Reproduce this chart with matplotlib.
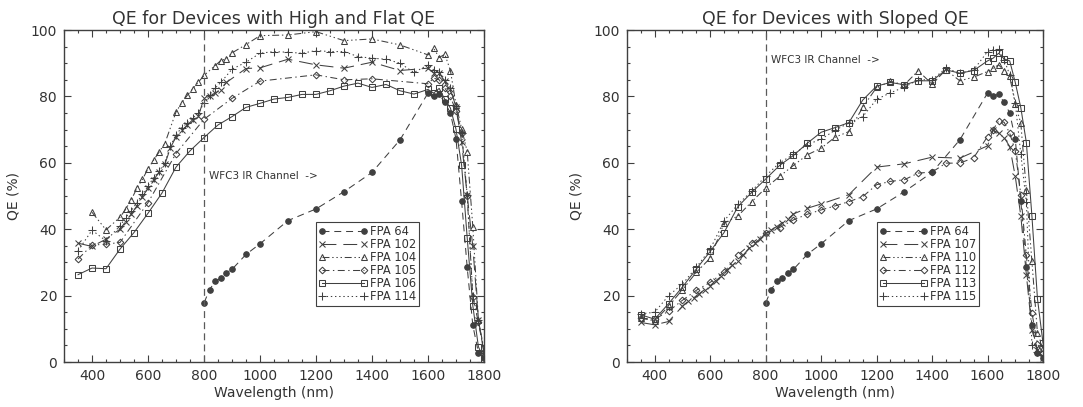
import matplotlib
matplotlib.use('Agg')
import matplotlib.pyplot as plt

plt.rcParams['font.family'] = ['DejaVu Sans']
plt.rcParams['lines.scale_dashes'] = False

# ---- data ---------------------------------------------------------------
# FPA 64 shows up in both panels
wl_64 = [800, 820, 840, 860, 880, 900, 950, 1000, 1100, 1200, 1300, 1400, 1500,
         1600, 1620, 1640, 1660, 1680, 1700, 1720, 1740, 1760, 1780, 1800]
qe_64 = [17.8, 21.8, 24.3, 25.2, 26.9, 27.9, 32.4, 35.6, 42.6, 46.1, 51.3, 57.1, 66.9,
         81.0, 80.2, 80.6, 78.2, 75.0, 67.2, 48.4, 28.5, 11.1, 2.8, 1.2]

# left panel: high and flat QE
wl_102 = [350, 400, 450, 500, 520, 540, 560, 580, 600, 620, 640, 660, 680, 700, 720, 740,
          760, 780, 800, 820, 840, 860, 880, 950, 1000, 1100, 1200, 1300, 1400, 1500,
          1600, 1620, 1640, 1660, 1680, 1700, 1720, 1740, 1760, 1780, 1800]
qe_102 = [35.8, 34.8, 37.0, 40.0, 42.3, 44.5, 47.0, 49.8, 52.3, 54.8, 57.3, 59.5, 64.5, 67.8,
          69.8, 71.3, 73.0, 74.0, 79.5, 80.0, 81.0, 82.0, 84.2, 88.4, 88.6, 91.2, 89.5, 88.5,
          90.3, 87.8, 88.5, 87.0, 87.0, 84.5, 82.1, 76.9, 66.2, 50.2, 34.8, 12.7, 2.7]

wl_104 = [400, 450, 500, 520, 540, 560, 580, 600, 620, 640, 660, 700, 720, 740, 760, 780,
          800, 840, 860, 880, 900, 950, 1000, 1100, 1200, 1300, 1400, 1500, 1600, 1620,
          1640, 1660, 1680, 1700, 1720, 1740, 1760, 1780, 1800]
qe_104 = [45.1, 39.8, 43.6, 46.0, 48.8, 52.3, 55.0, 58.2, 60.8, 63.3, 65.8, 75.3, 78.0, 80.3,
          82.3, 84.3, 86.3, 89.3, 90.8, 91.3, 93.1, 95.6, 98.3, 98.5, 99.5, 96.8, 97.3, 95.5,
          92.5, 94.5, 91.7, 92.7, 87.8, 77.5, 70.3, 63.4, 40.8, 12.7, 3.7]

wl_105 = [350, 400, 450, 500, 600, 700, 800, 900, 1000, 1200, 1300, 1400, 1600, 1620,
          1640, 1660, 1680, 1700, 1720, 1740, 1760, 1780, 1800]
qe_105 = [31.0, 35.2, 35.5, 36.0, 48.0, 62.8, 73.1, 79.4, 84.6, 86.5, 85.0, 85.3, 83.8, 85.5,
          85.0, 82.5, 80.0, 75.5, 69.0, 50.0, 19.5, 12.0, 3.0]

wl_106 = [350, 400, 450, 500, 550, 600, 650, 700, 750, 800, 850, 900, 950, 1000, 1050, 1100,
          1150, 1200, 1250, 1300, 1350, 1400, 1450, 1500, 1550, 1600, 1620, 1640, 1660,
          1680, 1700, 1720, 1740, 1760, 1780, 1800]
qe_106 = [26.3, 28.3, 28.1, 34.0, 39.0, 44.8, 50.9, 58.7, 63.6, 67.6, 71.4, 73.9, 76.7, 77.9,
          79.2, 79.7, 80.6, 80.6, 81.7, 83.1, 84.0, 82.7, 83.6, 81.7, 80.7, 82.1, 81.0, 82.4,
          79.1, 76.5, 70.1, 59.3, 37.4, 17.0, 4.6, 0.8]

wl_114 = [350, 400, 450, 500, 520, 540, 560, 580, 600, 620, 640, 660, 680, 700, 720, 740,
          760, 780, 800, 820, 840, 860, 900, 950, 1000, 1050, 1100, 1150, 1200, 1250, 1300,
          1350, 1400, 1450, 1500, 1550, 1600, 1620, 1640, 1660, 1680, 1700, 1720, 1740,
          1760, 1780, 1800]
qe_114 = [33.5, 39.7, 36.5, 41.0, 43.5, 45.5, 48.0, 50.5, 53.0, 55.5, 57.5, 60.0, 65.0, 68.5,
          70.5, 72.0, 73.5, 75.0, 78.0, 80.5, 82.5, 84.2, 88.2, 90.3, 93.0, 93.5, 93.3, 93.0,
          93.8, 93.5, 93.5, 92.0, 91.5, 91.2, 90.0, 87.2, 89.5, 88.0, 87.5, 85.0, 82.5, 77.0,
          69.0, 50.3, 20.0, 12.7, 3.2]

# right panel: sloped QE
wl_r = [350, 400, 450, 500, 550, 600, 650, 700, 750, 800, 850, 900, 950, 1000, 1050, 1100,
        1150, 1200, 1250, 1300, 1350, 1400, 1450, 1500, 1550, 1600, 1620, 1640, 1660,
        1680, 1700, 1720, 1740, 1760, 1780, 1800]
qe_110 = [13.2, 12.4, 16.8, 21.8, 27.0, 31.3, 41.8, 44.0, 48.3, 52.4, 55.9, 59.2, 62.4, 64.4,
          67.7, 69.4, 76.7, 82.7, 84.5, 83.5, 87.7, 83.7, 88.0, 84.7, 85.8, 87.5, 88.5, 89.5,
          87.8, 86.0, 77.7, 71.9, 51.7, 30.3, 8.7, 4.2]
qe_112 = [13.2, 12.9, 15.3, 18.6, 21.6, 24.0, 27.0, 32.3, 35.8, 38.8, 40.5, 42.8, 44.5, 45.8,
          47.0, 48.3, 49.8, 53.4, 54.4, 54.9, 56.9, 57.2, 59.9, 59.9, 61.5, 67.9, 70.0, 72.6,
          72.2, 68.9, 63.6, 50.4, 32.1, 14.9, 5.4, 2.7]
qe_113 = [14.2, 12.9, 17.6, 22.6, 28.0, 33.3, 39.0, 46.8, 51.1, 55.1, 59.2, 62.2, 65.9, 69.2,
          70.6, 72.1, 78.9, 83.1, 84.2, 83.5, 84.7, 84.7, 88.0, 87.0, 87.8, 90.7, 91.5, 93.0,
          91.3, 90.7, 84.2, 76.6, 66.1, 44.0, 19.1, 5.7]
qe_115 = [14.5, 15.0, 20.0, 23.5, 28.5, 34.0, 42.5, 47.5, 51.5, 56.0, 60.0, 62.5, 65.5, 67.1,
          69.8, 72.0, 73.9, 79.1, 81.1, 82.8, 85.0, 85.0, 88.5, 87.0, 88.0, 93.5, 94.0, 94.2,
          91.0, 86.5, 78.0, 62.6, 48.1, 5.2, 3.0, 2.0]

wl_107 = [350, 400, 450, 500, 520, 540, 560, 580, 600, 620, 640, 660, 680, 700, 720, 740,
          760, 780, 800, 820, 840, 860, 880, 900, 950, 1000, 1100, 1200, 1300, 1400, 1500,
          1600, 1620, 1640, 1660, 1680, 1700, 1720, 1740, 1760, 1780, 1800]
qe_107 = [11.9, 11.2, 12.2, 16.8, 18.3, 19.3, 20.6, 21.8, 23.0, 24.5, 25.8, 27.6, 29.1, 30.5,
          32.3, 34.3, 35.8, 37.1, 38.8, 39.8, 40.8, 42.0, 43.0, 44.6, 46.3, 47.6, 50.4, 58.7,
          59.7, 61.7, 61.4, 65.1, 69.9, 68.9, 67.6, 64.9, 55.9, 44.0, 26.3, 9.7, 3.7, 1.2]

# ---- styles --------------------------------------------------------------
INK = '#404040'
TXT = '#333333'
DASH = (5, 3.5)
LONGDASH = (10, 5)
DASHDOT = (5, 2.5, 1, 2.5)
DASH3DOT = (5, 2, 1, 2, 1, 2, 1, 2)
DOT = (1, 2)

left_series = [
    ('FPA 64', wl_64, qe_64, 'o', DASH, True),
    ('FPA 102', wl_102, qe_102, 'x', LONGDASH, False),
    ('FPA 104', wl_104, qe_104, '^', DASH3DOT, False),
    ('FPA 105', wl_105, qe_105, 'D', DASHDOT, False),
    ('FPA 106', wl_106, qe_106, 's', None, False),
    ('FPA 114', wl_114, qe_114, '+', DOT, False),
]
right_series = [
    ('FPA 64', wl_64, qe_64, 'o', DASH, True),
    ('FPA 107', wl_107, qe_107, 'x', LONGDASH, False),
    ('FPA 110', wl_r, qe_110, '^', DASH3DOT, False),
    ('FPA 112', wl_r, qe_112, 'D', DASHDOT, False),
    ('FPA 113', wl_r, qe_113, 's', None, False),
    ('FPA 115', wl_r, qe_115, '+', DOT, False),
]
msize = {'o': 4.0, 'x': 5.0, '^': 5.0, 'D': 3.4, 's': 5.0, '+': 6.0}

W, H = 1083, 407
fig = plt.figure(figsize=(W / 100, H / 100), dpi=100)


def panel(x0, x1, title, series, label_y):
    ax = fig.add_axes([x0 / W, 1 - 362 / H, (x1 - x0) / W, 332 / H])
    for name, x, y, m, dash, filled in series:
        line, = ax.plot(x, y, color=INK, lw=0.75, marker=m, ms=msize[m],
                        mfc=INK if filled else 'none', mec=INK, mew=0.75, label=name)
        if dash is not None:
            line.set_dashes(dash)
    ax.axvline(800, color='#5a5a5a', lw=0.9, dashes=(5, 3))
    ax.text(818, label_y, 'WFC3 IR Channel  ->', fontsize=7.5, color=TXT, va='center')
    ax.set_xlim(300, 1800)
    ax.set_ylim(0, 100)
    ax.set_xticks(range(400, 1801, 200))
    ax.set_xticks(range(300, 1801, 50), minor=True)
    ax.set_yticks(range(0, 101, 20))
    ax.set_yticks(range(0, 101, 5), minor=True)
    ax.tick_params(which='both', direction='in', top=True, right=True,
                   color=INK, labelsize=10, labelcolor=TXT, width=0.8)
    ax.tick_params(which='major', length=5, pad=5)
    ax.tick_params(which='minor', length=2.5)
    for s in ax.spines.values():
        s.set_color(INK)
        s.set_linewidth(1.0)
    ax.set_title(title, fontsize=12.5, color=TXT, pad=4)
    ax.set_xlabel('Wavelength (nm)', fontsize=10, color=TXT, labelpad=2)
    ax.set_ylabel('QE (%)', fontsize=10, color=TXT, labelpad=7)
    leg = ax.legend(loc='lower left', bbox_to_anchor=(1200, 17.0), bbox_transform=ax.transData,
                    numpoints=2, handlelength=4.2, handletextpad=0.2, labelspacing=0.0,
                    borderpad=0.25, borderaxespad=0, fontsize=8.3, fancybox=False,
                    framealpha=1, edgecolor=INK, labelcolor=TXT)
    leg.get_frame().set_linewidth(0.8)
    return ax


panel(64, 484, 'QE for Devices with High and Flat QE', left_series, 56)
panel(627, 1043, 'QE for Devices with Sloped QE', right_series, 91)

fig.savefig('out.png', dpi=100)
